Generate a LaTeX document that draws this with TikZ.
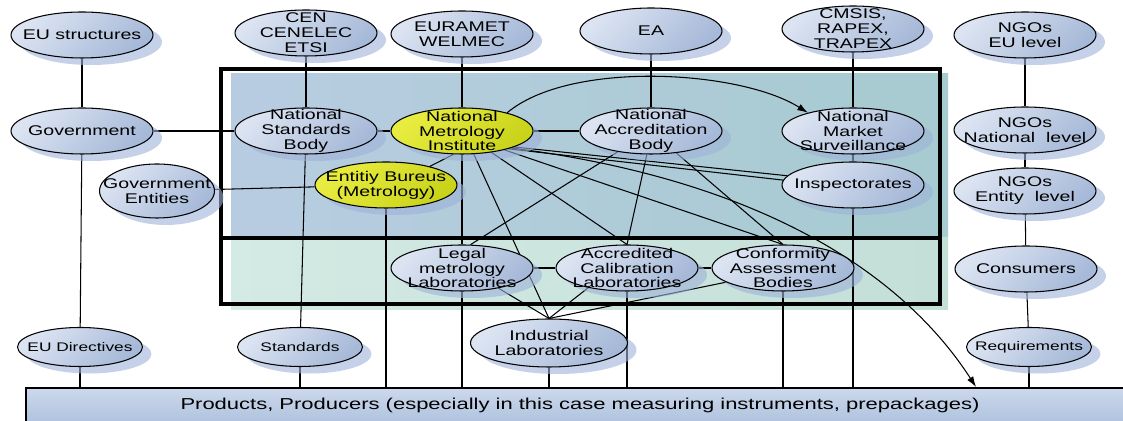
\documentclass[tikz,border=0pt]{standalone}
\usepackage{fontspec}
\setmainfont{Liberation Sans}[FakeStretch=1.39]
\usetikzlibrary{shapes.geometric,shadows,arrows.meta}

\definecolor{ellLight}{HTML}{DCE4F2}
\definecolor{ellDark}{HTML}{A6B9D8}
\definecolor{yelLight}{HTML}{E8EC40}
\definecolor{yelDark}{HTML}{C9D31A}
\definecolor{regionA}{HTML}{B8CCE1}
\definecolor{regionB}{HTML}{A6CBD0}
\definecolor{regionC}{HTML}{D4EAE4}
\definecolor{regionD}{HTML}{C3DFD8}
\definecolor{boxLight}{HTML}{CCD8EC}
\definecolor{boxDark}{HTML}{B0C3DE}
\definecolor{shadowc}{HTML}{9DB2D8}

\pgfdeclarelayer{background}
\pgfsetlayers{background,main}

\tikzset{
  entity/.style={ellipse, draw, line width=0.6pt, inner sep=-40pt,
    minimum width=2.84cm, minimum height=0.92cm, align=center,
    font=\fontsize{8}{8.5}\selectfont,
    top color=ellLight, bottom color=ellDark, shading angle=45,
    drop shadow={shadow xshift=0.18cm, shadow yshift=-0.14cm, fill=shadowc, opacity=0.6}},
  metro/.style={entity, top color=yelLight, bottom color=yelDark, shading angle=45},
  smallentity/.style={entity, minimum width=2.5cm, minimum height=0.78cm,
    font=\fontsize{7.1}{7.5}\selectfont},
  conn/.style={line width=0.6pt},
}

\begin{document}
\begin{tikzpicture}[x=0.02cm, y=-0.02cm]
        \useasboundingbox (0,0) rectangle (1123,421);

        % National area (shaded)
        \begin{pgfonlayer}{background}
        \shade[left color=regionA, right color=regionB] (231,74) rectangle (948,238);
        \shade[left color=regionC, right color=regionD] (231,238) rectangle (948,310);
        \end{pgfonlayer}
        \draw[line width=2.3pt] (221,69) rectangle (940,304);
        \draw[line width=2pt] (221,238) -- (940,238);

        % EU level
        \node[entity] (eus) at (82,35) {EU structures};
        \node[entity] (cen) at (306,33) {CEN\\CENELEC\\ETSI};
        \node[entity] (eur) at (462,34) {EURAMET\\WELMEC};
        \node[entity] (ea) at (651,31) {EA};
        \node[entity] (cms) at (853,29) {CMSIS,\\RAPEX,\\TRAPEX};
        \node[entity] (ngoeu) at (1025,35) {NGOs\\EU level};

        % National level
        \node[entity] (gov) at (82,131) {Government};
        \node[entity] (nsb) at (306,131) {National\\Standards\\Body};
        \node[metro] (nmi) at (462,131) {National\\Metrology\\Institute};
        \node[entity] (nab) at (651,131) {National\\Accreditation\\Body};
        \node[entity] (nms) at (853,131) {National\\Market\\Surveillance};
        \node[entity] (ngonat) at (1025,130) {NGOs\\National~ level};

        % Entity level
        \node[entity, minimum width=2.3cm, minimum height=1.08cm] (ge) at (157,191) {Government\\Entities};
        \node[metro] (eb) at (386,185) {Entitiy Bureus\\(Metrology)};
        \node[entity] (insp) at (853,185) {Inspectorates};
        \node[entity] (ngoent) at (1025,191) {NGOs\\Entity~ level};

        % Laboratories and bodies
        \node[entity] (legal) at (462,268) {Legal\\metrology\\Laboratories};
        \node[entity] (acl) at (627,268) {Accredited\\Calibration\\Laboratories};
        \node[entity] (cab) at (783,268) {Conformity\\Assessment\\Bodies};
        \node[entity] (cons) at (1026,269) {Consumers};
        \node[entity, minimum width=3.14cm, minimum height=0.96cm] (ind) at (549,343) {Industrial\\Laboratories};
        \node[smallentity] (eudir) at (80,347) {EU Directives};
        \node[smallentity] (std) at (300,347) {Standards};
        \node[smallentity] (req) at (1029,347) {Requirements};

        % Products
        \node[draw, line width=1.5pt, top color=boxLight, bottom color=boxDark, inner sep=0pt,
          minimum width=22.16cm, minimum height=0.68cm, font=\fontsize{9}{10}\selectfont]
          (prod) at (580,405) {Products, Producers (especially in this case measuring instruments, prepackages)};
        \coordinate (arrowend) at (976,387);

        \begin{pgfonlayer}{background}
        % Vertical chains
        \draw[conn] (eus) -- (gov);
        \draw[conn] (gov) -- (eudir);
        \draw[conn] (eudir) -- (eudir |- prod.north);
        \draw[conn] (cen) -- (nsb);
        \draw[conn] (nsb) -- (std);
        \draw[conn] (std) -- (std |- prod.north);
        \draw[conn] (eur) -- (nmi);
        \draw[conn] (nmi) -- (legal);
        \draw[conn] (legal) -- (legal |- prod.north);
        \draw[conn] (ea) -- (nab);
        \draw[conn] (cms) -- (nms);
        \draw[conn] (nms) -- (insp);
        \draw[conn] (insp) -- (insp |- prod.north);
        \draw[conn] (ngoeu) -- (ngonat);
        \draw[conn] (ngonat) -- (ngoent);
        \draw[conn] (ngoent) -- (cons);
        \draw[conn] (cons) -- (req);
        \draw[conn] (req) -- (req |- prod.north);
        \draw[conn] (eb) -- (eb |- prod.north);
        \draw[conn] (acl) -- (acl |- prod.north);
        \draw[conn] (cab) -- (cab |- prod.north);
        \draw[conn] (ind) -- (ind |- prod.north);

        % Horizontal links
        \draw[conn] (gov) -- (nsb);
        \draw[conn] (nsb) -- (nmi);
        \draw[conn] (nmi) -- (nab);
        \draw[conn] (ge) -- (eb);
        \draw[conn] (nmi.250) -- (eb.23);
        \draw[conn] (legal) -- (acl);
        \draw[conn] (acl) -- (cab);

        % Accreditation body links
        \draw[conn] (nab.212) -- (legal.70);
        \draw[conn] (nab.260) -- (acl.north);
        \draw[conn] (nab.-41) -- (cab.north);

        % Metrology institute links
        \draw[conn] (nmi.-17) -- (insp.172);
        \draw[conn] (nmi.-21) -- (insp.176);
        \draw[conn] (nmi.-24) -- (cab.north);
        \draw[conn] (nmi.-36) -- (acl.north);
        \draw[conn] (nmi.-63) -- (ind.north);
        \draw[conn, -{Latex[length=6pt,width=4pt]}] (nmi.22) .. controls (570,60) and (740,70) .. (nms.158);
        \draw[conn, -{Latex[length=6pt,width=4pt]}] (nmi.-19) .. controls (800,185) and (920,300) .. (arrowend);

        % Industrial laboratories
        \draw[conn] (legal.-29) -- (ind.north);
        \draw[conn] (acl.207) -- (ind.north);
        \draw[conn] (cab.194) -- (ind.north);
        \end{pgfonlayer}
\end{tikzpicture}
\end{document}
